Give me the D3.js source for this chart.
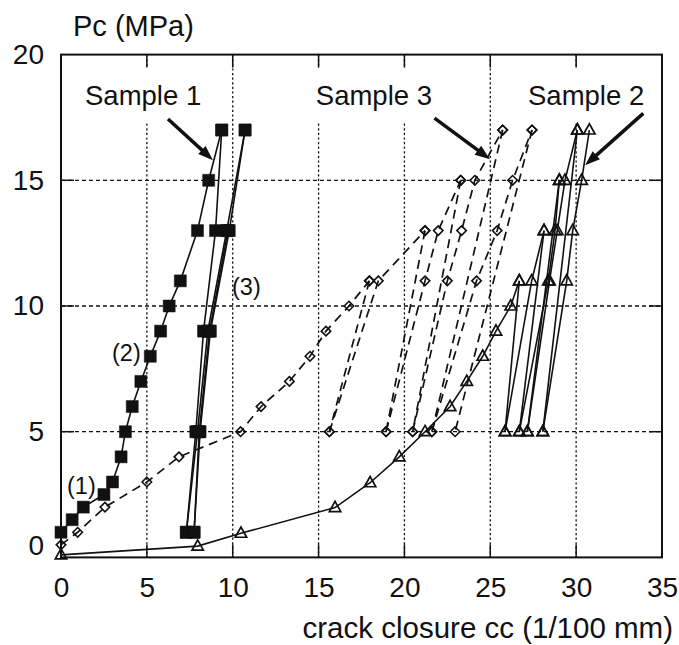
<!DOCTYPE html>
<html>
<head>
<meta charset="utf-8">
<script src="https://cdn.jsdelivr.net/npm/d3@7"></script>
<style>
  body { margin: 0; background: #fff; }
  svg { display: block; }
  text { font-family: "Liberation Sans", Arial, sans-serif; fill: #111; }
</style>
</head>
<body>
<svg id="chart" width="679" height="645"></svg>
<script>
// axis ticks
const xTicks = [0, 5, 10, 15, 20, 25, 30, 35];
const yTicks = [0, 5, 10, 15, 20];
const xGrid = [5, 10, 15, 20, 25, 30];
const yGrid = [5, 10, 15];

// Sample 1 (filled squares, solid): first loading then cycles
const sample1Load = [[0, 1], [0.65, 1.5], [1.3, 2], [2.5, 2.5], [3.0, 3], [3.5, 4], [3.75, 5], [4.15, 6],
  [4.65, 7], [5.2, 8], [5.8, 9], [6.3, 10], [6.95, 11], [7.95, 13], [8.6, 15], [9.36, 17]];
const sample1Cycles = [
  [[9.36, 17], [9.0, 13], [8.3, 9], [7.85, 5], [7.3, 1]],
  [[7.3, 1], [7.95, 5], [8.55, 9], [9.65, 13], [10.72, 17]],
  [[10.72, 17], [9.8, 13], [8.7, 9], [8.1, 5], [7.75, 1]],
  [[7.75, 1], [8.05, 5], [8.65, 9], [9.72, 13]]
];

// Sample 3 (open diamonds, dashed)
const sample3Load = [[0, 0.5], [0.97, 1], [2.56, 2], [5.0, 3], [6.87, 4], [10.46, 5], [11.65, 6], [13.3, 7],
  [14.5, 8], [15.43, 9], [16.77, 10], [17.96, 11]];
const sample3Cycles = [
  [[17.96, 11], [15.63, 5]],
  [[15.63, 5], [18.48, 11], [21.2, 13]],
  [[21.2, 13], [18.93, 5]],
  [[18.93, 5], [21.2, 11], [21.97, 13], [23.28, 15]],
  [[23.28, 15], [20.48, 5]],
  [[20.48, 5], [22.5, 11], [23.33, 13], [24.1, 15], [25.72, 17]],
  [[25.72, 17], [21.6, 5]],
  [[21.6, 5], [24.2, 11], [25.4, 13], [26.3, 15], [27.43, 17]],
  [[27.43, 17], [22.95, 5]]
];

// Sample 2 (open triangles, solid)
const sample2Load = [[0, 0.1], [7.96, 0.45], [10.48, 0.96], [15.96, 1.98], [18.0, 2.97], [19.7, 4.0], [21.2, 5],
  [22.66, 6], [23.63, 7], [24.56, 8], [25.33, 9], [26.19, 10], [26.69, 11]];
const sample2Cycles = [
  [[26.69, 11], [25.86, 5]],
  [[25.86, 5], [27.41, 11], [28.13, 13]],
  [[28.13, 13], [26.69, 5]],
  [[26.69, 5], [28.38, 11], [28.77, 13], [29.02, 15]],
  [[29.02, 15], [27.16, 5]],
  [[27.16, 5], [28.45, 11], [28.9, 13], [29.35, 15], [30.07, 17]],
  [[30.07, 17], [28.06, 5]],
  [[28.06, 5], [29.45, 11], [29.8, 13], [30.32, 15], [30.77, 17]]
];

// annotations: arrows [x0, y0, x1, y1] in data units
const sampleLabels = ["Sample 1", "Sample 3", "Sample 2"];
const sampleArrows = [[6.23, 17.44, 8.85, 15.8], [21.75, 17.47, 24.98, 15.84], [33.91, 17.66, 30.52, 15.6]];
const branchLabels = ["(1)", "(2)", "(3)"];

const svg = d3.select("#chart");
const x = d3.scaleLinear().domain([0, 35]).range([61, 662]);
const y = d3.scaleLinear().domain([0, 20]).range([557.4, 54.6]);
const [x0, x1] = x.range();
const [y0, y1] = y.range();

// grid
svg.append("g").selectAll("line").data(xGrid).join("line")
  .attr("x1", d => x(d)).attr("x2", d => x(d)).attr("y1", y1).attr("y2", y0)
  .attr("stroke", "#111").attr("stroke-width", 1.3).attr("stroke-dasharray", "2.2,2.4");
svg.append("g").selectAll("line").data(yGrid).join("line")
  .attr("x1", x0).attr("x2", x1).attr("y1", d => y(d)).attr("y2", d => y(d))
  .attr("stroke", "#111").attr("stroke-width", 1.3).attr("stroke-dasharray", "4,3");

// white boxes behind the sample labels (they hide the grid)
const boxes = [[80, 205], [310, 438], [522, 648]];
svg.append("g").selectAll("rect").data(boxes).join("rect")
  .attr("x", d => d[0]).attr("width", d => d[1] - d[0]).attr("y", 68).attr("height", 54)
  .attr("fill", "#fff");

const line = d3.line().x(d => x(d[0])).y(d => y(d[1]));

function drawSeries(load, cycles, dashed) {
  const g = svg.append("g").attr("fill", "none").attr("stroke", "#111")
    .attr("stroke-width", dashed ? 1.7 : 1.6);
  g.selectAll("path").data([load, ...cycles]).join("path")
    .attr("d", line)
    .attr("stroke-dasharray", dashed ? "9,6" : null);
}

const squareSym = { draw(ctx, s) { const r = Math.sqrt(s) / 2; ctx.rect(-r, -r, 2 * r, 2 * r); } };
const diamondSym = { draw(ctx, s) { const r = Math.sqrt(s) / 2; ctx.moveTo(0, -r); ctx.lineTo(r, 0); ctx.lineTo(0, r); ctx.lineTo(-r, 0); ctx.closePath(); } };
const triSym = { draw(ctx, s) { const r = Math.sqrt(s) / 2; ctx.moveTo(0, -r * 1.1); ctx.lineTo(r, r * 0.7); ctx.lineTo(-r, r * 0.7); ctx.closePath(); } };

function drawMarkers(load, cycles, type, size, filled, sw) {
  const pts = load.concat(...cycles);
  svg.append("g").selectAll("path").data(pts).join("path")
    .attr("transform", d => `translate(${x(d[0])},${y(d[1])})`)
    .attr("d", d3.symbol().type(type).size(size))
    .attr("fill", filled ? "#111" : "none")
    .attr("stroke", "#111")
    .attr("stroke-width", sw);
}

drawSeries(sample2Load, sample2Cycles, false);
drawSeries(sample3Load, sample3Cycles, true);
drawSeries(sample1Load, sample1Cycles, false);
drawMarkers(sample2Load, sample2Cycles, triSym, 130, false, 1.7);
drawMarkers(sample3Load, sample3Cycles, diamondSym, 90, false, 1.6);
drawMarkers(sample1Load, sample1Cycles, squareSym, 144, true, 0.5);

// frame
svg.append("rect").attr("x", x0).attr("y", y1).attr("width", x1 - x0).attr("height", y0 - y1)
  .attr("fill", "none").attr("stroke", "#111").attr("stroke-width", 2);

// inward ticks on all sides
const tk = svg.append("g").attr("stroke", "#111").attr("stroke-width", 1.5);
xGrid.forEach(v => {
  tk.append("line").attr("x1", x(v)).attr("x2", x(v)).attr("y1", y1).attr("y2", y1 + 13);
  tk.append("line").attr("x1", x(v)).attr("x2", x(v)).attr("y1", y0).attr("y2", y0 - 13);
});
yGrid.forEach(v => {
  tk.append("line").attr("x1", x0).attr("x2", x0 + 13).attr("y1", y(v)).attr("y2", y(v));
  tk.append("line").attr("x1", x1).attr("x2", x1 - 13).attr("y1", y(v)).attr("y2", y(v));
});

// tick labels through d3 axes
const xAxis = svg.append("g").attr("transform", `translate(0,${y0})`)
  .call(d3.axisBottom(x).tickValues(xTicks).tickSize(0).tickPadding(20).tickFormat(d3.format("d")));
const yAxis = svg.append("g").attr("transform", `translate(${x0},0)`)
  .call(d3.axisLeft(y).tickValues(yTicks).tickSize(0).tickPadding(17).tickFormat(d3.format("d")));
[xAxis, yAxis].forEach(a => {
  a.select(".domain").remove();
  a.selectAll("text").attr("font-size", 28).attr("font-family", "Liberation Sans, Arial, sans-serif").attr("fill", "#111");
});
yAxis.selectAll(".tick").filter(d => d === 0).select("text").attr("y", -12);

// titles
svg.append("text").attr("x", 73).attr("y", 36).attr("font-size", 29).text("Pc (MPa)");
svg.append("text").attr("x", 673).attr("y", 638).attr("text-anchor", "end").attr("font-size", 29.5)
  .text("crack closure cc (1/100 mm)");

// sample labels
const labelPos = [[85, "start"], [432, "end"], [528, "start"]];
sampleLabels.forEach((t, i) => {
  svg.append("text").attr("x", labelPos[i][0]).attr("y", 105).attr("text-anchor", labelPos[i][1])
    .attr("font-size", 27.5).text(t);
});

// branch labels
const branchPos = [[67, 494], [112, 361], [232, 295]];
branchLabels.forEach((t, i) => {
  svg.append("text").attr("x", branchPos[i][0]).attr("y", branchPos[i][1]).attr("font-size", 23.5).text(t);
});

// arrows
sampleArrows.forEach(a => {
  const ax = x(a[0]), ay = y(a[1]), bx = x(a[2]), by = y(a[3]);
  const ang = Math.atan2(by - ay, bx - ax);
  const L = 15, W = 5.5;
  const cx = bx - L * Math.cos(ang), cy = by - L * Math.sin(ang);
  svg.append("line").attr("x1", ax).attr("y1", ay).attr("x2", cx + 2 * Math.cos(ang)).attr("y2", cy + 2 * Math.sin(ang))
    .attr("stroke", "#111").attr("stroke-width", 3.5);
  const pts = [[bx, by],
    [cx - W * Math.sin(ang), cy + W * Math.cos(ang)],
    [cx + W * Math.sin(ang), cy - W * Math.cos(ang)]];
  svg.append("path").attr("d", "M" + pts.map(p => p.join(",")).join("L") + "Z").attr("fill", "#111");
});
</script>
</body>
</html>
